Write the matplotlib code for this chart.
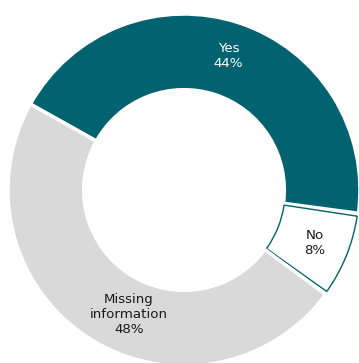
import matplotlib.pyplot as plt
import numpy as np

labels = ["Yes", "No", "Missing\ninformation"]
shares = [44, 8, 48]
colors = ["#02626F", "white", "#D9D9D9"]
teal = "#02626F"

# pixel geometry of the ring in the 359x363 picture
W, H = 359, 363
cx, cy, R = 184, 190, 176

fig = plt.figure(figsize=(W / 100, H / 100), dpi=100)
ax = fig.add_axes([0, 0, 1, 1])

wedges, _ = ax.pie(
    shares,
    colors=colors,
    startangle=150.8,
    counterclock=False,
    radius=1.0,
    wedgeprops=dict(width=0.43, edgecolor="white", linewidth=2.5),
)

# "No" slice: white fill with a thin teal outline, pulled in a bit
no = wedges[1]
no.set_theta1(no.theta1 + 1.0)
no.set_theta2(no.theta2 - 1.0)
no.set_radius(0.995)
no.set_width(0.42)
no.set_edgecolor(teal)
no.set_linewidth(1.0)

label_r = [0.80, 0.80, 0.775]
label_shift = [0, 0, 9]
text_colors = ["white", "#1a1a1a", "#1a1a1a"]
for w, lab, s, r, sh, tc in zip(wedges, labels, shares, label_r, label_shift, text_colors):
    ang = np.deg2rad((w.theta1 + w.theta2) / 2 + sh)
    ax.text(r * np.cos(ang), r * np.sin(ang), f"{lab}\n{s}%",
            ha="center", va="center", fontsize=9.6, color=tc, linespacing=1.2)

ax.set_xlim(-cx / R, (W - cx) / R)
ax.set_ylim(-(H - cy) / R, cy / R)
ax.set_aspect("auto")
ax.axis("off")

fig.savefig("out.png", dpi=100)
